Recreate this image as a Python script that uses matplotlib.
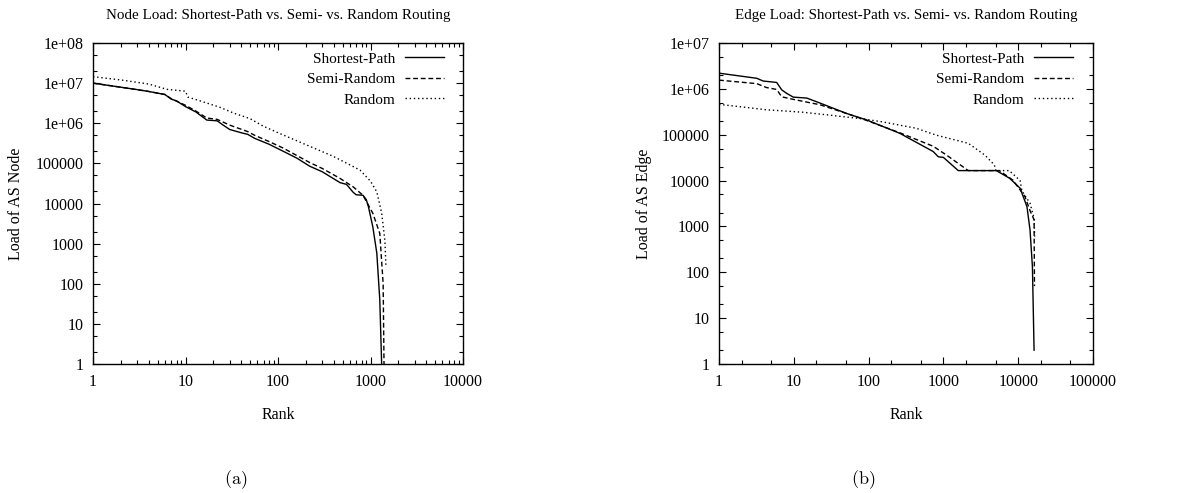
"""
Node and edge load vs. rank for three routing schemes
"""
import math

import matplotlib
matplotlib.use("Agg")
import matplotlib.pyplot as plt
from matplotlib.ticker import LogLocator, NullFormatter

plt.rcParams["font.family"] = "serif"
plt.rcParams["font.serif"] = ["Liberation Serif", "DejaVu Serif"]
plt.rcParams["mathtext.fontset"] = "cm"

LABELS = ["Shortest-Path", "Semi-Random", "Random"]

# (a) node load
node_sp_rank = [1, 2, 3, 4, 6, 7, 8, 10, 13, 17, 22, 25, 30, 40, 47, 56, 80, 114,
                160, 220, 300, 470, 550, 650, 700, 830, 900, 950, 1060, 1170, 1260, 1320]
node_sp_load = [1.0e7, 7.9e6, 6.9e6, 6.2e6, 5.2e6, 4.0e6, 3.6e6, 2.6e6, 1.9e6, 1.2e6,
                1.15e6, 9.3e5, 7.0e5, 5.8e5, 5.3e5, 4.2e5, 3.0e5, 2.0e5, 1.35e5, 8.5e4,
                6.2e4, 3.3e4, 3.0e4, 1.9e4, 1.65e4, 1.6e4, 1.25e4, 8.3e3, 2.6e3, 580, 40, 1]

node_semi_rank = [1, 2, 4, 6, 7, 10, 13, 17, 22, 30, 47, 56, 80, 114, 220, 300,
                  470, 650, 830, 1060, 1260, 1370, 1400]
node_semi_load = [1.0e7, 7.9e6, 6.2e6, 5.2e6, 4.1e6, 2.8e6, 2.0e6, 1.35e6, 1.25e6,
                  9.0e5, 6.2e5, 5.0e5, 3.5e5, 2.4e5, 1.05e5, 7.5e4, 4.2e4, 2.6e4,
                  1.6e4, 5.7e3, 1.8e3, 100, 1]

node_rand_rank = [1, 2, 4, 6.3, 10, 10.6, 15, 23.5, 33, 50, 69, 100, 172, 395,
                  770, 1000, 1170, 1320, 1430, 1470]
node_rand_load = [1.45e7, 1.2e7, 9.5e6, 7.0e6, 6.3e6, 4.5e6, 3.5e6, 2.5e6, 1.8e6,
                  1.3e6, 8.5e5, 5.8e5, 3.4e5, 1.5e5, 6.8e4, 3.6e4, 1.95e4, 5.8e3,
                  1.2e3, 260]

# (b) edge load
edge_sp_rank = [1, 3.2, 3.9, 5.9, 6.9, 8.0, 9.85, 14.9, 22.4, 51, 94, 262, 730,
                855, 1000, 1580, 5100, 7700, 10600, 13100, 14400, 15500, 16300]
edge_sp_load = [2.2e6, 1.7e6, 1.48e6, 1.38e6, 9.5e5, 8.0e5, 6.6e5, 6.3e5, 4.9e5,
                2.9e5, 2.1e5, 1.07e5, 4.3e4, 3.3e4, 3.2e4, 1.65e4, 1.65e4, 1.12e4,
                6.8e3, 2.7e3, 830, 130, 2]

edge_semi_rank = [1, 3.2, 4.3, 5.9, 6.9, 9.85, 22.4, 51, 94, 262, 730, 1100,
                  2150, 5600, 8500, 12300, 14400, 16300, 16500]
edge_semi_load = [1.55e6, 1.3e6, 1.07e6, 9.7e5, 6.7e5, 5.9e5, 4.5e5, 2.9e5,
                  2.05e5, 1.1e5, 5.6e4, 3.6e4, 1.65e4, 1.65e4, 1.02e4, 4.5e3,
                  2.2e3, 1.4e3, 50]

edge_rand_rank = [1, 4.3, 13, 28.5, 86, 155, 435, 800, 2150, 3580, 4800, 5030,
                  7600, 10600, 11200, 14400, 16300, 16600]
edge_rand_load = [4.6e5, 3.5e5, 3.1e5, 2.7e5, 2.2e5, 1.9e5, 1.38e5, 9.8e4, 6.5e4,
                  3.6e4, 2.2e4, 1.65e4, 1.65e4, 1.0e4, 6.0e3, 3.2e3, 1.5e3, 600]

STYLES = ["-", (0, (3.5, 2)), (0, (1, 2))]
FS = 11.5


def gp_log(v, pos):
    # gnuplot style: plain numbers below 1e6, then 1e+NN
    if v < 1e6:
        return f"{v:.0f}"
    return f"1e+{int(round(math.log10(v))):02d}"


def panel(ax, series, xmax, ymax, xsubs, ylabel, title, leg_x):
    for (x, y), ls, lab in zip(series, STYLES, LABELS):
        ax.plot(x, y, color="black", lw=1.0, ls=ls, label=lab)
    ax.set_xscale("log")
    ax.set_yscale("log")
    ax.set_xlim(1, xmax)
    ax.set_ylim(1, ymax)
    ax.xaxis.set_major_locator(LogLocator(base=10, numticks=20))
    ax.xaxis.set_minor_locator(LogLocator(base=10, subs=xsubs, numticks=50))
    ax.yaxis.set_major_locator(LogLocator(base=10, numticks=20))
    ax.yaxis.set_minor_locator(LogLocator(base=10, subs=(2, 5), numticks=50))
    ax.xaxis.set_minor_formatter(NullFormatter())
    ax.yaxis.set_minor_formatter(NullFormatter())
    ax.xaxis.set_major_formatter(plt.FuncFormatter(lambda v, p: f"{v:.0f}"))
    ax.yaxis.set_major_formatter(plt.FuncFormatter(gp_log))
    ax.tick_params(which="both", direction="in", top=True, right=True,
                   labelsize=FS, pad=7, width=0.8)
    ax.tick_params(which="major", length=5)
    ax.tick_params(which="minor", length=3)
    for s in ax.spines.values():
        s.set_linewidth(1.0)
    ax.set_title(title, fontsize=FS - 0.7, pad=17)
    ax.set_xlabel("Rank", fontsize=FS)
    ax.xaxis.set_label_coords(0.5, -0.134)
    ax.set_ylabel(ylabel, fontsize=FS)
    ax.legend(loc="upper right", bbox_to_anchor=(leg_x, 0.972), frameon=False,
              fontsize=FS - 0.5, markerfirst=False,
              handlelength=2.55, handletextpad=0.65, labelspacing=0.44,
              borderaxespad=0.0, borderpad=0.0)


W, H = 1194, 493
fig = plt.figure(figsize=(W / 100, H / 100), dpi=100)
axa = fig.add_axes([93 / W, 1 - 364 / H, 370 / W, 321 / H])
axb = fig.add_axes([719 / W, 1 - 364 / H, 374 / W, 321 / H])

panel(axa,
      [(node_sp_rank, node_sp_load), (node_semi_rank, node_semi_load),
       (node_rand_rank, node_rand_load)],
      1e4, 1e8, (2, 3, 4, 5, 6, 7, 8, 9), "Load of AS Node",
      "Node Load: Shortest-Path vs. Semi- vs. Random Routing", 0.949)
axa.yaxis.set_label_coords(-0.187, 0.5)

panel(axb,
      [(edge_sp_rank, edge_sp_load), (edge_semi_rank, edge_semi_load),
       (edge_rand_rank, edge_rand_load)],
      1e5, 1e7, (2, 5), "Load of AS Edge",
      "Edge Load: Shortest-Path vs. Semi- vs. Random Routing", 0.947)
axb.yaxis.set_label_coords(-0.179, 0.5)

fig.text(236 / W, 1 - 480 / H, r"$\mathrm{(a)}$", ha="center", va="center", fontsize=13)
fig.text(863 / W, 1 - 480 / H, r"$\mathrm{(b)}$", ha="center", va="center", fontsize=13)

fig.savefig("out.png", dpi=100)
